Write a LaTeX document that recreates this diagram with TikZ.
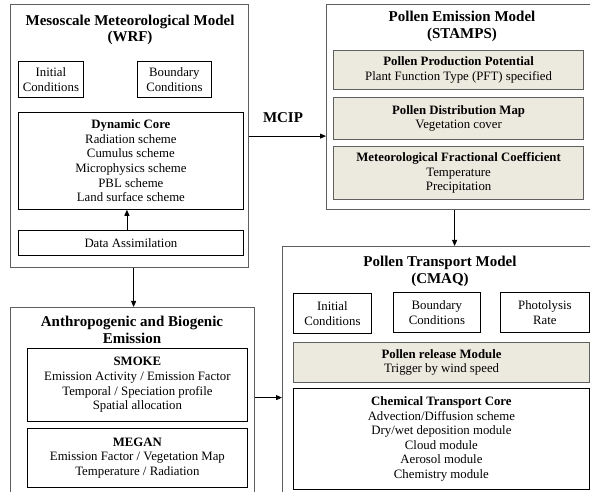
\documentclass[tikz,border=0pt]{standalone}
\usepackage{fontspec}
\setmainfont{Liberation Serif}
\usetikzlibrary{arrows.meta,calc}
\definecolor{beige}{RGB}{236,233,222}
\definecolor{outerc}{RGB}{95,95,95}
\begin{document}
\begin{tikzpicture}[x=1pt,y=-1pt,
  outerbox/.style={draw=outerc,line width=1.2pt,inner sep=0pt,anchor=north west},
  inbox/.style={draw=black,line width=0.8pt,inner sep=0pt,anchor=north west,align=center,font=\fontsize{12.8}{14.6}\selectfont},
  pbox/.style={inbox,fill=beige,draw=outerc,line width=1.2pt},
  ttl/.style={align=center,font=\fontsize{15}{16.5}\selectfont\bfseries,inner sep=0pt},
  arr/.style={-{Triangle[length=6pt,width=5pt]},line width=0.8pt}]
\useasboundingbox (0,0) rectangle (590,492);
\fill[white] (0,0) rectangle (590,492);

% WRF
\node[outerbox,minimum width=238pt,minimum height=263pt] (wrf) at (10,4) {};
\node[ttl] (wrft) at (130,30) {Mesoscale Meteorological Model\\(WRF)};
\node[inbox,minimum width=65pt,minimum height=36pt] (wic) at (18,61) {Initial\\Conditions};
\node[inbox,minimum width=74pt,minimum height=36pt] (wbc) at (137,61) {Boundary\\Conditions};
\node[inbox,minimum width=225pt,minimum height=97pt] (dc) at (18,112) {\textbf{Dynamic Core}\\Radiation scheme\\Cumulus scheme\\Microphysics scheme\\PBL scheme\\Land surface scheme};
\node[inbox,minimum width=225pt,minimum height=25pt] (da) at (18,230) {Data Assimilation};

% STAMPS
\node[outerbox,minimum width=280pt,minimum height=205pt] (stamps) at (326,4) {};
\node[ttl] (stampst) at (462,26.5) {Pollen Emission Model\\(STAMPS)};
\node[pbox,minimum width=250pt,minimum height=39pt] (ppp) at (333,50) {\textbf{Pollen Production Potential}\\Plant Function Type (PFT) specified};
\node[pbox,minimum width=250pt,minimum height=42pt] (pdm) at (333,97) {\textbf{Pollen Distribution Map}\\Vegetation cover};
\node[pbox,minimum width=250pt,minimum height=53pt] (mfc) at (333,146) {\textbf{Meteorological Fractional Coefficient}\\Temperature\\Precipitation};

% MCIP
\node[font=\fontsize{15}{16}\selectfont\bfseries,inner sep=0pt] (mcip) at (283,118) {MCIP};

% Anthropogenic
\node[outerbox,minimum width=244pt,minimum height=200pt] (anthro) at (10,307) {};
\node[ttl] (anthrot) at (132,330) {Anthropogenic and Biogenic\\Emission};
\node[inbox,minimum width=220pt,minimum height=73pt] (smoke) at (27,348) {\textbf{SMOKE}\\Emission Activity / Emission Factor\\Temporal / Speciation profile\\Spatial allocation};
\node[inbox,minimum width=220pt,minimum height=59pt] (megan) at (27,428) {\textbf{MEGAN}\\Emission Factor / Vegetation Map\\Temperature / Radiation};

% CMAQ
\node[outerbox,minimum width=320pt,minimum height=260pt] (cmaq) at (282,246) {};
\node[ttl] (cmaqt) at (440,271.5) {Pollen Transport Model\\(CMAQ)};
\node[inbox,minimum width=78pt,minimum height=40pt] (cic) at (293,293) {Initial\\Conditions};
\node[inbox,minimum width=87pt,minimum height=40pt] (cbc) at (393,292) {Boundary\\Conditions};
\node[inbox,minimum width=89pt,minimum height=40pt] (cpr) at (500,292) {Photolysis\\Rate};
\node[pbox,minimum width=296pt,minimum height=40pt] (prm) at (293,342) {\textbf{Pollen release Module}\\Trigger by wind speed};
\node[inbox,minimum width=296pt,minimum height=101pt] (ctc) at (293,388) {\textbf{Chemical Transport Core}\\Advection/Diffusion scheme\\Dry/wet deposition module\\Cloud module\\Aerosol module\\Chemistry module};

% connectors
\draw[arr] ([xshift=-4pt]da.north) -- ([xshift=-4pt]dc.south);
\draw[arr] (wrf.east) -- (wrf.east -| stamps.west);
\draw[arr] ([xshift=4pt]wrf.south) -- ([xshift=4pt]wrf.south |- anthro.north);
\draw[arr] ([xshift=-12pt]stamps.south) -- ([xshift=-12pt]stamps.south |- cmaq.north);
\draw[arr] ([yshift=10pt]anthro.east) -- ([yshift=10pt]anthro.east -| cmaq.west);
\end{tikzpicture}
\end{document}
